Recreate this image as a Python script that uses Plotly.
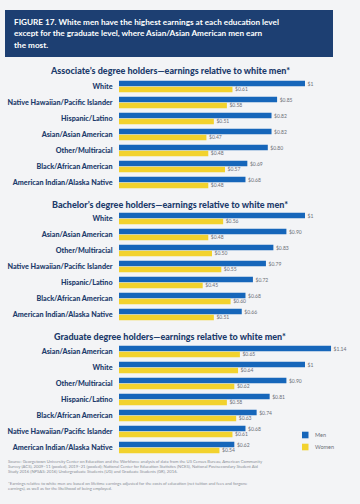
import plotly.graph_objects as go

# ---------------- data ----------------
assoc_groups = ["White", "Native Hawaiian/Pacific Islander", "Hispanic/Latino",
                "Asian/Asian American", "Other/Multiracial", "Black/African American",
                "American Indian/Alaska Native"]
assoc_men = [1.00, 0.85, 0.82, 0.82, 0.80, 0.69, 0.68]
assoc_women = [0.61, 0.58, 0.51, 0.47, 0.48, 0.57, 0.48]

bach_groups = ["White", "Asian/Asian American", "Other/Multiracial",
               "Native Hawaiian/Pacific Islander", "Hispanic/Latino",
               "Black/African American", "American Indian/Alaska Native"]
bach_men = [1.00, 0.90, 0.83, 0.79, 0.72, 0.68, 0.66]
bach_women = [0.56, 0.48, 0.50, 0.55, 0.45, 0.60, 0.51]

grad_groups = ["Asian/Asian American", "White", "Other/Multiracial", "Hispanic/Latino",
               "Black/African American", "Native Hawaiian/Pacific Islander",
               "American Indian/Alaska Native"]
grad_men = [1.14, 1.00, 0.90, 0.81, 0.74, 0.68, 0.62]
grad_women = [0.65, 0.64, 0.62, 0.58, 0.63, 0.61, 0.54]

series_names = ["Men", "Women"]

section_titles = ["Associate’s degree holders—earnings relative to white men*",
                  "Bachelor’s degree holders—earnings relative to white men*",
                  "Graduate degree holders—earnings relative to white men*"]

# ---------------- style ----------------
W, H = 360, 504
BG = "#f3f4f6"
NAVY = "#1c3b6b"
BLUE = "#1666ba"
YELLOW = "#f2d22e"
GRAY = "#6b6f76"
FONT = "Lato"


def py(p):
    return 1 - p / H


def px(p):
    return p / W


def money(v):
    return "$1" if abs(v - 1) < 1e-9 else f"${v:.2f}"


fig = go.Figure()

sections = [(assoc_groups, assoc_men, assoc_women),
            (bach_groups, bach_men, bach_women),
            (grad_groups, grad_men, grad_women)]
domains_px = [(78.5, 190.5), (210.5, 322.5), (343.5, 455.5)]
title_y = [71, 204, 336]
colors = [BLUE, YELLOW]

x0_px, x_per_unit = 119.0, 186.0
xmax = 1.24
xdom = [px(x0_px), px(x0_px + x_per_unit * xmax)]

for i, (groups, men, women) in enumerate(sections):
    n = "" if i == 0 else str(i + 1)
    xa, ya = "x" + n, "y" + n
    for vals, color, name in zip([men, women], colors, series_names):
        fig.add_trace(go.Bar(
            y=groups, x=vals, orientation="h", name=name,
            marker=dict(color=color, line=dict(width=0)),
            text=["  " + money(v) for v in vals], textposition="outside",
            textfont=dict(size=5, color=GRAY, family=FONT),
            constraintext="none", cliponaxis=False,
            xaxis=xa, yaxis=ya, showlegend=False, hoverinfo="skip"))
    top, bot = domains_px[i]
    fig.layout["xaxis" + n] = dict(domain=xdom, range=[0, xmax], visible=False,
                                   anchor=ya, fixedrange=True)
    fig.layout["yaxis" + n] = dict(domain=[py(bot), py(top)], anchor=xa,
                                   range=[6.5, -0.5], type="category",
                                   showgrid=False, zeroline=False, showline=False,
                                   ticks="outside", ticklen=4, tickcolor="rgba(0,0,0,0)",
                                   tickfont=dict(size=7.2, color=NAVY, family=FONT, weight=900),
                                   fixedrange=True)
    fig.add_annotation(text=section_titles[i], xref="paper", yref="paper",
                       x=px(170), y=py(title_y[i]), xanchor="center", yanchor="middle",
                       showarrow=False, font=dict(size=9, color=NAVY, family=FONT, weight=900))

# legend (swatches + labels)
for k, (name, color) in enumerate(zip(series_names, colors)):
    yc = 435 + 12 * k
    fig.add_shape(type="rect", xref="paper", yref="paper", x0=px(302), x1=px(308.5),
                  y0=py(yc + 3.3), y1=py(yc - 3.3), fillcolor=color, line=dict(width=0))
    fig.add_annotation(text=name, xref="paper", yref="paper", x=px(313), y=py(yc),
                       xanchor="left", yanchor="middle", showarrow=False,
                       font=dict(size=5.5, color=GRAY, family=FONT))

# title box
fig.add_shape(type="rect", xref="paper", yref="paper", x0=px(5), x1=px(333),
              y0=py(57), y1=py(10), fillcolor="#1d3f72", line=dict(width=0), layer="below")
title_lines = ["<b>FIGURE 17.</b> White men have the highest earnings at each education level",
               "except for the graduate level, where Asian/Asian American men earn",
               "the most."]
for k, line in enumerate(title_lines):
    fig.add_annotation(text=line, xref="paper", yref="paper", x=px(12), y=py(22.5 + 11 * k),
                       xanchor="left", yanchor="middle", showarrow=False,
                       font=dict(size=8.2, color="white", family=FONT, weight=700))

# footnotes
foot_lines = [
    (461, "Source: Georgetown University Center on Education and the Workforce analysis of data from the US Census Bureau, American Community"),
    (466, "Survey (ACS), 2009–11 (pooled), 2019–21 (pooled); National Center for Education Statistics (NCES), National Postsecondary Student Aid"),
    (471, "Study 2016 (NPSAS: 2016) Undergraduate Students (UG) and Graduate Students (GR), 2016."),
    (483, "*Earnings relative to white men are based on lifetime earnings adjusted for the costs of education (net tuition and fees and forgone"),
    (488, "earnings), as well as for the likelihood of being employed."),
]
for yy, t in foot_lines:
    fig.add_annotation(text=t, xref="paper", yref="paper", x=px(6), y=py(yy),
                       xanchor="left", yanchor="middle", showarrow=False,
                       font=dict(size=4.2, color="#8a8f96", family=FONT))

fig.update_layout(
    width=W, height=H, margin=dict(l=0, r=0, t=0, b=0),
    paper_bgcolor=BG, plot_bgcolor=BG,
    barmode="group", bargap=0.27, bargroupgap=0.06,
    font=dict(family=FONT), showlegend=False,
)

fig.write_html("out.html", config={"displayModeBar": False},
               post_script="document.body.style.margin='0';document.body.style.overflow='hidden';")
